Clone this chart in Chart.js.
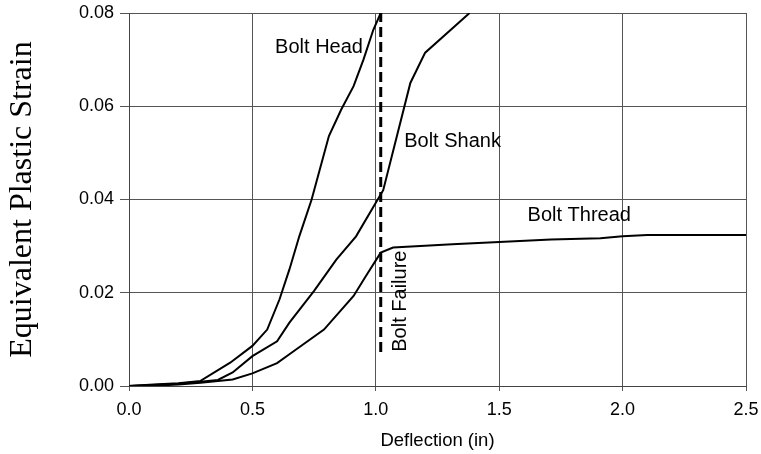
<!DOCTYPE html>
<html>
<head>
<meta charset="utf-8">
<script src="https://cdn.jsdelivr.net/npm/chart.js@4/dist/chart.umd.min.js"></script>
<style>
  body { margin: 0; background: #fff; }
  canvas { display: block; }
</style>
</head>
<body>
<canvas id="strainChart" width="761" height="454"></canvas>
<script>
// deflection (in) and equivalent plastic strain for each bolt region
const headDefl = [0, 0.1, 0.2, 0.29, 0.41, 0.5, 0.56, 0.61, 0.65, 0.69, 0.74, 0.81, 0.86, 0.91, 0.95, 0.99, 1.02];
const headStrain = [0, 0.0003, 0.0006, 0.0011, 0.005, 0.0086, 0.0121, 0.0186, 0.025, 0.0321, 0.040, 0.0536, 0.0593, 0.0643, 0.070, 0.0764, 0.080];

const shankDefl = [0, 0.1, 0.2, 0.29, 0.36, 0.42, 0.5, 0.6, 0.65, 0.75, 0.84, 0.92, 1.0, 1.03, 1.14, 1.2, 1.38];
const shankStrain = [0, 0.0002, 0.0005, 0.0009, 0.0013, 0.0029, 0.0064, 0.0096, 0.0136, 0.0204, 0.0271, 0.0321, 0.0393, 0.042, 0.065, 0.0715, 0.080];

const threadDefl = [0, 0.1, 0.2, 0.29, 0.42, 0.5, 0.6, 0.65, 0.79, 0.91, 0.96, 1.02, 1.07, 1.31, 1.5, 1.71, 1.91, 2.0, 2.1, 2.5];
const threadStrain = [0, 0.0001, 0.0003, 0.0007, 0.0014, 0.0027, 0.0049, 0.0068, 0.0121, 0.0193, 0.0236, 0.0286, 0.0297, 0.0304, 0.0309, 0.0314, 0.0317, 0.0321, 0.0324, 0.0324];

const failureDefl = [1.02, 1.02];
const failureStrain = [0.0073, 0.08];

const xTicks = [0, 0.5, 1.0, 1.5, 2.0, 2.5];
const yTicks = [0, 0.02, 0.04, 0.06, 0.08];

// curve labels, placed in data units (x = left edge / centre for rotated)
const curveLabels = [
    { text: 'Bolt Head', x: 0.592, y: 0.0726, rotate: false },
    { text: 'Bolt Shank', x: 1.115, y: 0.0525, rotate: false },
    { text: 'Bolt Thread', x: 1.615, y: 0.0366, rotate: false },
    { text: 'Bolt Failure', x: 1.098, y: 0.0182, rotate: true }
];

function toPoints(xs, ys) {
    return xs.map((x, i) => ({ x: x, y: ys[i] }));
}

const curveLabelPlugin = {
    id: 'curveLabels',
    afterDatasetsDraw(chart) {
        const ctx = chart.ctx;
        const xs = chart.scales.x;
        const ys = chart.scales.y;
        ctx.save();
        ctx.fillStyle = '#000';
        ctx.font = '20px "Liberation Sans", Arial, sans-serif';
        ctx.textBaseline = 'middle';
        curveLabels.forEach(lbl => {
            const px = xs.getPixelForValue(lbl.x);
            const py = ys.getPixelForValue(lbl.y);
            if (lbl.rotate) {
                ctx.save();
                ctx.translate(px, py);
                ctx.rotate(-Math.PI / 2);
                ctx.textAlign = 'center';
                ctx.fillText(lbl.text, 0, 0);
                ctx.restore();
            } else {
                ctx.textAlign = 'left';
                ctx.fillText(lbl.text, px, py);
            }
        });
        ctx.restore();
    }
};

const lineStyle = {
    borderColor: '#000',
    borderWidth: 2,
    pointRadius: 0,
    fill: false,
    tension: 0
};

new Chart(document.getElementById('strainChart'), {
    type: 'line',
    data: {
        datasets: [
            Object.assign({ label: 'Bolt Head', data: toPoints(headDefl, headStrain) }, lineStyle),
            Object.assign({ label: 'Bolt Shank', data: toPoints(shankDefl, shankStrain) }, lineStyle),
            Object.assign({ label: 'Bolt Thread', data: toPoints(threadDefl, threadStrain) }, lineStyle),
            Object.assign({ label: 'Bolt Failure', data: toPoints(failureDefl, failureStrain) }, lineStyle,
                { borderWidth: 3, borderDash: [10, 5] })
        ]
    },
    options: {
        responsive: false,
        animation: false,
        layout: { padding: { top: 13, right: 15, left: 0, bottom: 0 } },
        plugins: {
            legend: { display: false },
            tooltip: { enabled: false }
        },
        scales: {
            x: {
                type: 'linear',
                min: 0,
                max: 2.5,
                afterBuildTicks: axis => { axis.ticks = xTicks.map(v => ({ value: v })); },
                afterFit: axis => {
                    axis.height = 68;
                    axis.paddingLeft = 0;
                    axis.paddingRight = 0;
                },
                ticks: {
                    color: '#000',
                    font: { family: '"Liberation Sans", Arial, sans-serif', size: 18 },
                    padding: 8,
                    maxRotation: 0,
                    callback: v => v.toFixed(1)
                },
                grid: { color: '#555', tickLength: 5, tickColor: '#555' },
                border: { color: '#444' },
                title: {
                    display: true,
                    text: 'Deflection (in)',
                    color: '#000',
                    font: { family: '"Liberation Sans", Arial, sans-serif', size: 18.5 },
                    padding: { top: 0, bottom: 2 }
                }
            },
            y: {
                min: 0,
                max: 0.08,
                afterBuildTicks: axis => { axis.ticks = yTicks.map(v => ({ value: v })); },
                afterFit: axis => {
                    axis.width = 129;
                    axis.paddingTop = 0;
                    axis.paddingBottom = 0;
                },
                ticks: {
                    color: '#000',
                    font: { family: '"Liberation Sans", Arial, sans-serif', size: 18 },
                    padding: 6,
                    callback: v => v.toFixed(2)
                },
                grid: { color: '#555', tickLength: 9, tickColor: '#555' },
                border: { color: '#444' },
                title: {
                    display: true,
                    text: 'Equivalent Plastic Strain',
                    color: '#000',
                    font: { family: '"Liberation Serif", "Times New Roman", serif', size: 32 },
                    padding: { top: 3, bottom: 0 }
                }
            }
        }
    },
    plugins: [curveLabelPlugin]
});
</script>
</body>
</html>
